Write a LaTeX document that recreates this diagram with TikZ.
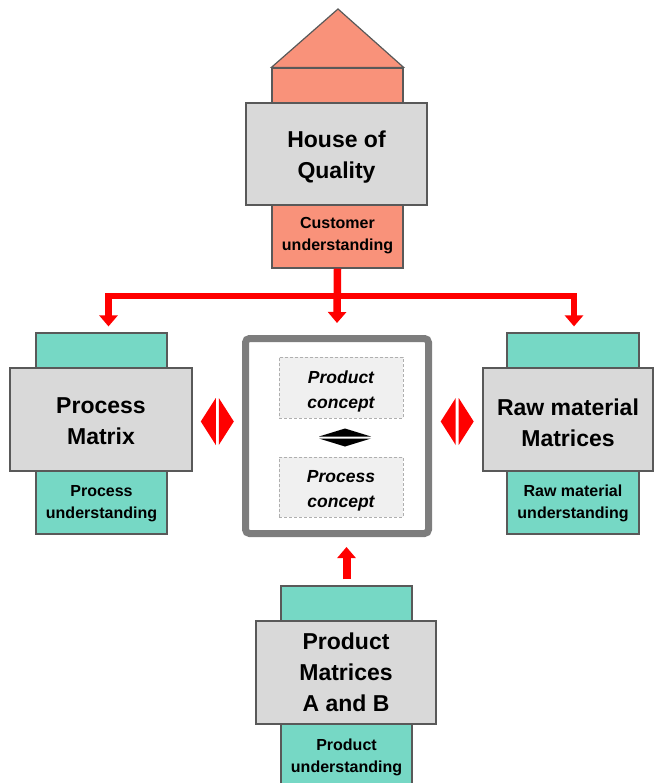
\documentclass[tikz,border=0pt]{standalone}
\usepackage{fontspec}
\setmainfont{Liberation Sans}
\usetikzlibrary{arrows.meta,calc}

\definecolor{salmon}{RGB}{249,146,122}
\definecolor{tealtab}{RGB}{118,216,197}
\definecolor{boxgray}{RGB}{217,217,217}
\definecolor{edgegray}{RGB}{89,89,89}
\definecolor{framegray}{RGB}{125,125,125}
\definecolor{conceptfill}{RGB}{240,240,240}
\definecolor{dashgray}{RGB}{175,175,175}
\definecolor{arrowred}{RGB}{255,0,0}

\tikzset{
  titlefont/.style={font=\fontsize{23}{31}\selectfont\bfseries},
  notefont/.style={font=\fontsize{16}{22.5}\selectfont\bfseries},
  matrixbox/.style={draw=edgegray, line width=1.2pt, fill=boxgray, inner sep=0pt},
  titletext/.style={align=center, titlefont, inner sep=0pt},
  tabbox/.style={draw=edgegray, line width=1.2pt, inner sep=0pt},
  tealbox/.style={tabbox, fill=tealtab},
  salmonbox/.style={tabbox, fill=salmon},
  notetext/.style={align=center, notefont, inner sep=0pt},
  conceptbox/.style={draw=dashgray, dashed, dash pattern=on 3pt off 2pt, line width=0.9pt,
    fill=conceptfill, inner sep=0pt, minimum width=124pt, minimum height=60pt},
  concepttext/.style={align=center, inner sep=0pt,
    font=\fontsize{17.5}{25}\selectfont\bfseries\itshape},
  feed/.style={draw=arrowred, line width=6.5pt,
    -{Triangle[width=18pt,length=11pt]}},
  pics/splitdiamond/.style={code={
    \fill[arrowred] (-16.5,0) -- (-1.5,-23.5) -- (-1.5,23.5) -- cycle;
    \fill[arrowred] (16.5,0) -- (1.5,-23.5) -- (1.5,23.5) -- cycle;}},
  pics/splitblack/.style={code={
    \fill[black] (-26,-1) -- (0,-9) -- (26,-1) -- cycle;
    \fill[black] (-26,1) -- (0,9) -- (26,1) -- cycle;}}
}

\begin{document}
\begin{tikzpicture}[x=1pt,y=-1pt]
\useasboundingbox (0,0) rectangle (654,783);

% House of Quality: roof, salmon tab and grey matrix box
\node[salmonbox, minimum width=131pt, minimum height=200pt] (hqTab) at (337.5,168) {};
\draw[draw=edgegray, line width=1.2pt, fill=salmon, line join=miter]
  (hqTab.north west) -- (338,9) -- (hqTab.north east) -- cycle;
\node[matrixbox, minimum width=181pt, minimum height=102pt] (hq) at (336.5,154) {};
\node[titletext] (hqTitle) at ([yshift=-3.5pt]hq.center) {House of\\Quality};
\node[notetext] (hqNote) at (337.5,235.5) {Customer\\understanding};

% Process matrix (left)
\node[tealbox, minimum width=131pt, minimum height=201pt] (pmTab) at (101.5,433.5) {};
\node[matrixbox, minimum width=182pt, minimum height=103pt] (pm) at (101,419.5) {};
\node[titletext] (pmTitle) at ([yshift=-2pt]pm.center) {Process\\Matrix};
\node[notetext] (pmNote) at (101.5,503.5) {Process\\understanding};

% Raw material matrices (right)
\node[tealbox, minimum width=132pt, minimum height=201pt] (rmTab) at (573,433.5) {};
\node[matrixbox, minimum width=170pt, minimum height=103pt] (rm) at (568,419.5) {};
\node[titletext] (rmTitle) at ([yshift=-3pt]rm.center) {Raw material\\Matrices};
\node[notetext] (rmNote) at (573,503.5) {Raw material\\understanding};

% Product matrices (bottom)
\node[tealbox, minimum width=131pt, minimum height=214pt] (pdTab) at (346.5,693) {};
\node[matrixbox, minimum width=180pt, minimum height=103pt] (pd) at (346,672.5) {};
\node[titletext] (pdTitle) at ([yshift=0.5pt]pd.center) {Product\\Matrices\\A and B};
\node[notetext] (pdNote) at (346.5,757.5) {Product\\understanding};

% Central concept frame
\node[draw=framegray, line width=7pt, rounded corners=4pt, fill=white,
  minimum width=183pt, minimum height=195pt, inner sep=0pt] (core) at (337,436) {};
\node[conceptbox, minimum height=61pt] (prodc) at (341,387.5) {};
\node[concepttext] (prodcText) at ([yshift=-3.5pt]prodc.center) {Product\\concept};
\node[conceptbox] (procc) at (341,487) {};
\node[concepttext] (proccText) at ([yshift=-3.5pt]procc.center) {Process\\concept};
\pic at ([xshift=4pt]$(prodc.south)!0.5!(procc.north)$) {splitblack};

% Two-way links between the side matrices and the concept frame
\coordinate (lmid) at ($(pm.east)!0.5!(core.west)$);
\coordinate (rmid) at ($(core.east)!0.5!(rm.west)$);
\pic at ([yshift=-2pt]lmid |- pm.east) {splitdiamond};
\pic at ([yshift=-2pt]rmid |- rm.east) {splitdiamond};

% Red feed lines from the House of Quality
\coordinate (junction) at ([yshift=-27.5pt]hqTab.south);
\draw[feed, line width=7.5pt] (hqTab.south) -- ([yshift=12pt]core.north);
\draw[feed] (junction) -| ([xshift=7pt,yshift=6pt]pmTab.north);
\draw[feed] (junction) -| ([xshift=1pt,yshift=6pt]rmTab.north);

% Red feed from the product matrices up into the concept frame
\draw[feed, line width=8pt] ([yshift=6pt]pdTab.north)
  -- ([yshift=-10pt]core.south -| pdTab.north);
\end{tikzpicture}
\end{document}
